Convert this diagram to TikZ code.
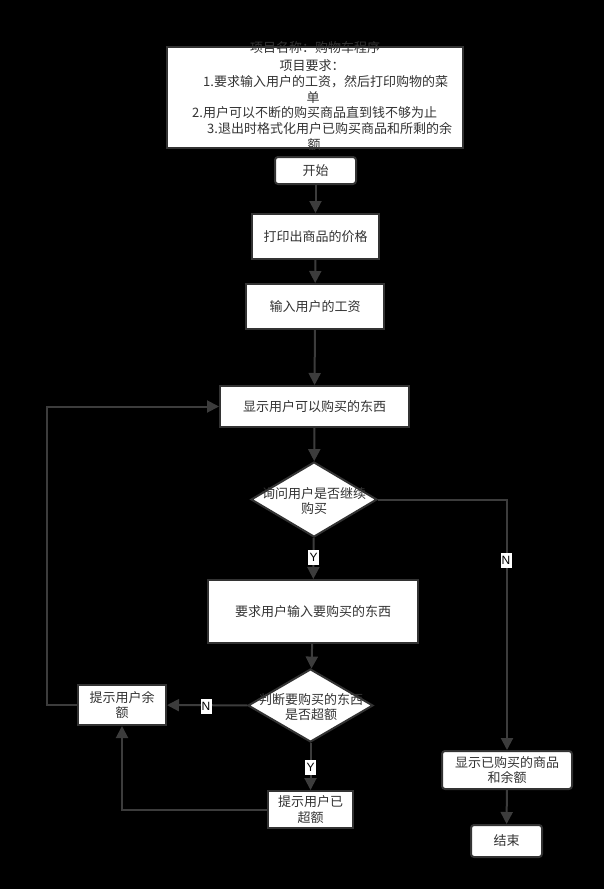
\documentclass[tikz,border=0pt]{standalone}
\usepackage{fontspec}
\setmainfont{Noto Sans CJK SC}
\newfontfamily\latinfont{Liberation Sans}
\usetikzlibrary{arrows.meta,shapes.geometric}
\definecolor{ink}{HTML}{333333}
\definecolor{edge}{HTML}{3C3C3C}
\begin{document}
\begin{tikzpicture}[x=1pt,y=-1pt,
  box/.style={draw=ink,line width=2pt,fill=white,text=ink,font=\fontsize{13}{15.5}\selectfont,inner sep=0pt,align=center},
  rbox/.style={box,rounded corners=3pt},
  dia/.style={draw=ink,line width=2pt,fill=white,diamond,inner sep=0pt},
  txt/.style={text=ink,font=\fontsize{13}{15.5}\selectfont,inner sep=0pt,align=center},
  tline/.style={text=ink,font=\fontsize{13}{15}\selectfont,inner sep=0pt},
  conn/.style={draw=edge,line width=2pt,-{Triangle[length=12pt,width=12pt]}},
  yn/.style={fill=white,text=black,font=\latinfont\fontsize{12}{12}\selectfont,inner sep=1pt,minimum width=11pt,minimum height=15pt}
]
\fill[black] (0,0) rectangle (604,889);
\useasboundingbox (0,0) rectangle (604,889);

% title box
\node[box,minimum width=296pt,minimum height=101pt] (title) at (315,97.5) {};
\node[tline] (t1) at (315,48) {项目名称：购物车程序};
\node[tline] (t2) at (312,66) {项目要求：};
\node[tline,anchor=west] (t3) at (203,82) {1.要求输入用户的工资，然后打印购物的菜};
\node[tline] (t4) at (313,98) {单};
\node[tline,anchor=west] (t5) at (192,113) {2.用户可以不断的购买商品直到钱不够为止};
\node[tline,anchor=west] (t6) at (207,129) {3.退出时格式化用户已购买商品和所剩的余};
\node[tline] (t7) at (314,145) {额};

\node[rbox,minimum width=81pt,minimum height=27pt] (start) at (315.5,170.5) {开始};
\node[box,minimum width=127pt,minimum height=45pt] (print) at (315.5,236.5) {打印出商品的价格};
\node[box,minimum width=138pt,minimum height=45pt] (salary) at (315,306.5) {输入用户的工资};
\node[box,minimum width=189pt,minimum height=41pt] (show) at (314.5,406.5) {显示用户可以购买的东西};

\node[dia,minimum width=126pt,minimum height=75pt] (ask) at (314,499.5) {};
\node[txt] (asktext) at (314,501) {询问用户是否继续\\购买};

\node[box,minimum width=210pt,minimum height=63pt] (input) at (313,611.5) {要求用户输入要购买的东西};

\node[dia,minimum width=125pt,minimum height=73pt] (judge) at (310.5,705.5) {};
\node[txt] (judgetext) at (311,707) {判断要购买的东西\\是否超额};

\node[box,minimum width=88pt,minimum height=40pt] (remain) at (122,705) {提示用户余\\额};
\node[box,minimum width=85pt,minimum height=37pt] (over) at (310.5,809.5) {提示用户已\\超额};

\node[rbox,minimum width=130pt,minimum height=38pt] (result) at (507,770) {显示已购买的商品\\和余额};
\node[rbox,minimum width=71pt,minimum height=32pt] (end) at (506.5,841) {结束};

% connectors
\draw[conn] (start) -- (print);
\draw[conn] (print) -- (salary);
\draw[conn] (salary) -- (show);
\draw[conn] (show) -- (ask);
\draw[conn] (ask) -- (input);
\draw[conn] (input) -- (judge);
\draw[conn] (judge) -- (remain);
\draw[conn] (judge) -- (over);
\draw[conn] (over.west) -| (remain.south);
\draw[conn] (remain.west) -- ++(-30,0) |- (show.west);
\draw[conn] (ask.east) -| (result.north);
\draw[conn] (result) -- (end);

% labels
\node[yn] (y1) at (313.5,557) {Y};
\node[yn] (n1) at (506,560) {N};
\node[yn] (n2) at (206,706) {N};
\node[yn] (y2) at (310.5,767) {Y};
\end{tikzpicture}
\end{document}
